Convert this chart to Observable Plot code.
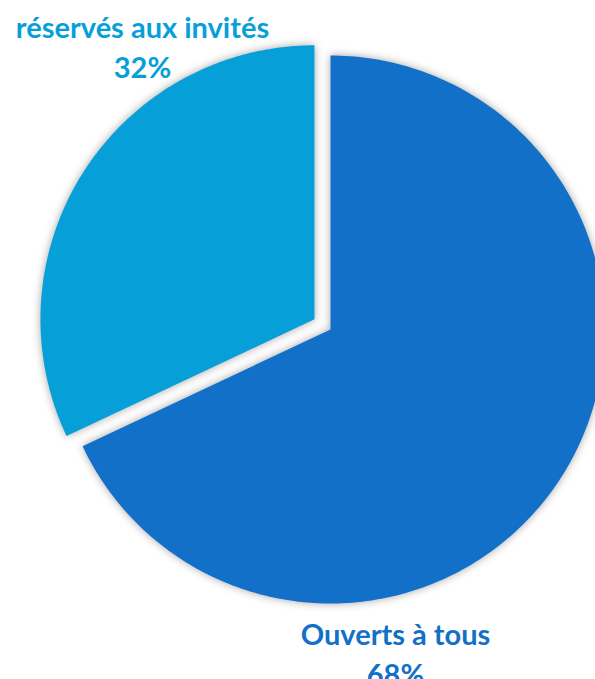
<!DOCTYPE html>
<html>
<head>
<meta charset="utf-8">
<script src="https://cdn.jsdelivr.net/npm/d3@7"></script>
<script src="https://cdn.jsdelivr.net/npm/@observablehq/plot@0.6"></script>
<style>
  html, body { margin: 0; padding: 0; background: #fff; overflow: hidden; }
  #chart svg g[aria-label="line"] path { filter: drop-shadow(0px 0px 4px rgba(0,0,0,0.35)); }
</style>
</head>
<body>
<div id="chart"></div>
<script>
// Data
const categories = ["Ouverts à tous", "réservés aux invités"];
const shares = [68, 32];
const colors = ["#1270C8", "#079FD8"];

// Layout
const W = 595, H = 679;
const CX = 330, CY = 329, R = 274, EXPLODE = 19;
const labelPos = [[395, 652], [142, 45]];

const arcs = d3.pie().sort(null)(shares);
const pts = [];
arcs.forEach((a, i) => {
  const exploded = i === 1;
  const mid = (a.startAngle + a.endAngle) / 2;
  const ox = exploded ? EXPLODE * Math.sin(mid) : 0;
  const oy = exploded ? -EXPLODE * Math.cos(mid) : 0;
  const cx = CX + ox, cy = CY + oy;
  pts.push({cat: categories[i], x: cx, y: cy, c: colors[i]});
  const n = 240;
  for (let k = 0; k <= n; k++) {
    const t = a.startAngle + (a.endAngle - a.startAngle) * k / n;
    pts.push({cat: categories[i], x: cx + R * Math.sin(t), y: cy - R * Math.cos(t), c: colors[i]});
  }
  pts.push({cat: categories[i], x: cx, y: cy, c: colors[i]});
});

const labels = categories.map((c, i) => ({
  text: `${c}\n${shares[i]}%`, x: labelPos[i][0], y: labelPos[i][1], c: colors[i]
}));

const chart = Plot.plot({
  width: W, height: H,
  margin: 0,
  x: {domain: [0, W], range: [0, W], axis: null},
  y: {domain: [0, H], range: [0, H], axis: null},
  marks: [
    Plot.line(pts, {x: "x", y: "y", z: "cat", fill: "c", stroke: null, curve: "linear"}),
    Plot.text(labels, {x: "x", y: "y", text: "text", fill: "c", fontSize: 29, fontWeight: "bold",
      fontFamily: "Lato", lineHeight: 1.38, textAnchor: "middle", lineAnchor: "middle"})
  ]
});
document.getElementById("chart").append(chart);
</script>
</body>
</html>
